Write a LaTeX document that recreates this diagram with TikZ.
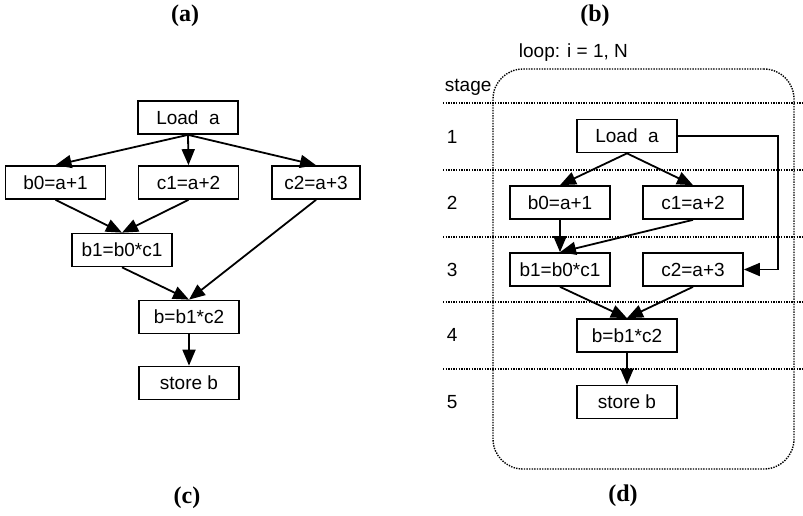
\documentclass[tikz,border=0pt]{standalone}
\usepackage{fontspec}
\setmainfont{Liberation Serif}
\setsansfont{Liberation Sans}
\usetikzlibrary{arrows.meta,positioning}

\begin{document}
\begin{tikzpicture}[x=1pt,y=-1pt,font=\sffamily\fontsize{19}{21}\selectfont,
  >={Triangle[length=16pt,width=13pt]},line width=1.8pt,
  b/.style={draw,line width=1.7pt,minimum width=100pt,minimum height=33pt,inner sep=0pt},
  lbl/.style={font=\rmfamily\bfseries\fontsize{24}{26}\selectfont},
  sep/.style={line width=1.4pt,dash pattern=on 1.4pt off 1.2pt},t/.style={anchor=west,inner sep=0pt}]
\useasboundingbox (0,0) rectangle (803,515);
% (c) plain graph
\node[b](la) at (188,117.5){Load\ \ a};
\node[b](b0) at (55.5,182.5){b0=a+1};
\node[b](c1) at (188.5,182.5){c1=a+2};
\node[b,minimum width=88pt](c2) at (316,182.5){c2=a+3};
\node[b](b1) at (122,250){b1=b0*c1};
\node[b](bb) at (189,317){b=b1*c2};
\node[b](sb) at (189,383){store b};
\foreach \x/\y in {la/b0,la/c1,la/c2,b0/b1,c1/b1,b1/bb,c2/bb,bb/sb} \draw[->](\x.south)--(\y.north);
% (d) pipelined loop
\node[draw,sep,rounded corners=30pt,minimum width=301pt,minimum height=400pt](loop) at (643.5,269){};
\node[t] at (518,53){loop: i = 1, N};
\foreach \y in {103,170,237,302,369} \draw[sep](443,\y)--(803,\y);
\node[t] at (444,87){stage};
\foreach \n/\y in {1/137,2/203,3/270,4/335,5/402} \node[t] at (446,\y){\n};
\node[b](lad) at (627,136){Load\ \ a};
\node[b](b0d) at (560,202.5){b0=a+1};
\node[b](c1d) at (693,202.5){c1=a+2};
\node[b](b1d) at (560,269.5){b1=b0*c1};
\node[b](c2d) at (693,269.5){c2=a+3};
\node[b](bd) at (627,335.5){b=b1*c2};
\node[b](sbd) at (627,402){store b};
\foreach \x/\y in {lad/b0d,lad/c1d,b0d/b1d,c1d/b1d,b1d/bd,c2d/bd,bd/sbd} \draw[->](\x.south)--(\y.north);
\draw[->](lad.east)--++(100,0)|-(c2d.east);
% captions
\node[lbl] at (185,16){(a)};
\node[lbl] at (595,16){(b)};
\node[lbl] at (187,498){(c)};
\node[lbl] at (623,496){(d)};
\end{tikzpicture}
\end{document}
